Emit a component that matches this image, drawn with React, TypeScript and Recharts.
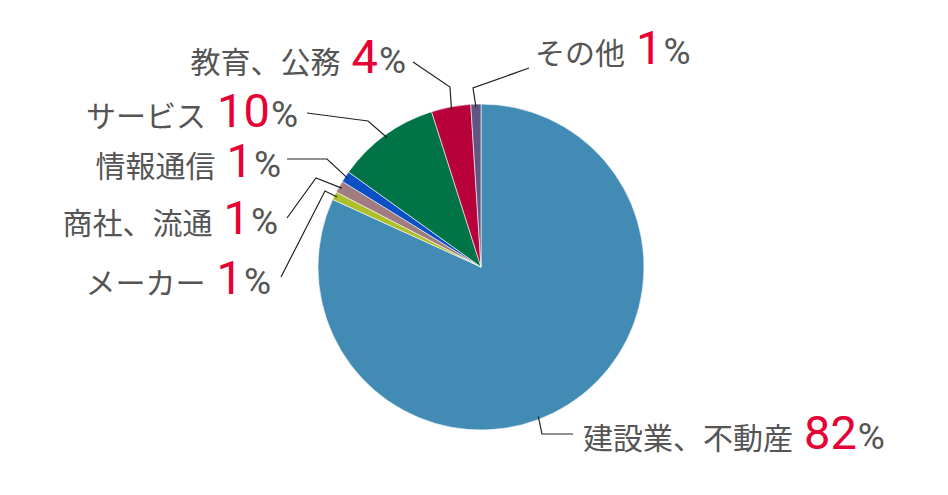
import React from "react";
import { PieChart, Pie, Cell } from "recharts";

// 業種別の構成比（時計回り、12時から）
const categories = ["建設業、不動産", "メーカー", "商社、流通", "情報通信", "サービス", "教育、公務", "その他"];
const shares = [81.8, 0.8, 1.2, 1.1, 10.2, 3.9, 1.0];
const shownLabels = ["82", "1", "1", "1", "10", "4", "1"];
const sliceColors = ["#428bb5", "#aebf29", "#a07b80", "#0b50c4", "#007347", "#b8003b", "#5f5682"];

// label layout: text position, anchor, leader line (text side -> elbow -> slice)
const labelLayout = [
  { x: 583, y: 449, anchor: "start", line: [[573, 434], [542, 434]], frac: 0.54 },
  { x: 271, y: 294, anchor: "end", line: [[281, 277], [325, 191]], frac: 0.5 },
  { x: 278, y: 234, anchor: "end", line: [[287, 218], [316, 178]], frac: 0.5 },
  { x: 281, y: 177, anchor: "end", line: [[287, 159], [327, 159]], frac: 0.5 },
  { x: 298, y: 127, anchor: "end", line: [[307, 113], [368, 121]], frac: 0.5 },
  { x: 406, y: 73, anchor: "end", line: [[413, 62], [450, 87]], frac: 0.5 },
  { x: 535, y: 64, anchor: "start", line: [[529, 68], [473, 88]], frac: 0.5 },
];

const data = categories.map((name, i) => ({
  name,
  value: shares[i],
  shown: shownLabels[i],
}));

const RADIAN = Math.PI / 180;
const FONT = "'Noto Sans CJK JP', 'Noto Sans', sans-serif";
const NUM_FONT = "Roboto, 'Noto Sans', sans-serif";

const renderLabel = (props: any) => {
  const { cx, cy, startAngle, endAngle, outerRadius, index } = props;
  const lay = labelLayout[index];
  const a = startAngle + (endAngle - startAngle) * lay.frac;
  const r = outerRadius - 3;
  const px = cx + r * Math.cos(a * RADIAN);
  const py = cy - r * Math.sin(a * RADIAN);
  const pts = [...lay.line, [px, py]].map((p) => p.join(",")).join(" ");
  return (
    <g key={`lbl-${index}`}>
      <polyline points={pts} fill="none" stroke="#222" strokeWidth={1.2} />
      <text x={lay.x} y={lay.y} textAnchor={lay.anchor} fontFamily={FONT}>
        <tspan fill="#555555" fontSize={30}>
          {categories[index]}
        </tspan>
        <tspan fill="#e60033" fontSize={47} dx={11} fontFamily={NUM_FONT}>
          {shownLabels[index]}
        </tspan>
        <tspan fill="#555555" fontSize={37} dx={1} fontFamily={NUM_FONT}>
          %
        </tspan>
      </text>
    </g>
  );
};

export default function App() {
  return (
    <div style={{ position: "absolute", left: 0, top: 0, width: 948, height: 495, background: "#fff" }}>
      <PieChart width={948} height={495} margin={{ top: 0, right: 0, bottom: 0, left: 0 }}>
        <Pie
          data={data}
          dataKey="value"
          nameKey="name"
          cx={481}
          cy={267}
          outerRadius={163}
          startAngle={90}
          endAngle={-270}
          stroke="#ffffff"
          strokeWidth={0.6}
          label={renderLabel}
          labelLine={false}
          isAnimationActive={false}
        >
          {data.map((d, i) => (
            <Cell key={d.name} fill={sliceColors[i]} />
          ))}
        </Pie>
      </PieChart>
    </div>
  );
}
